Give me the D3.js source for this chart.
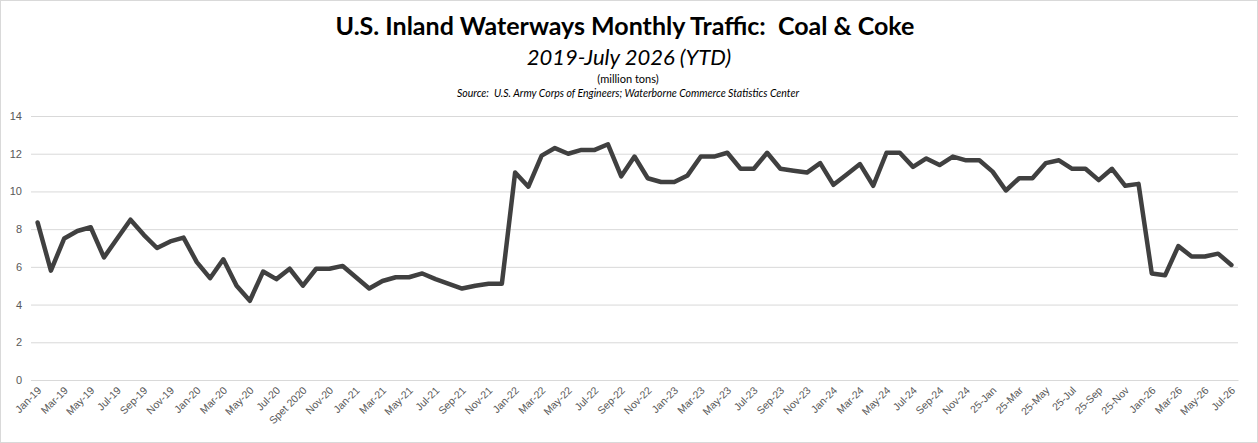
<!DOCTYPE html>
<html>
<head>
<meta charset="utf-8">
<script src="https://cdn.jsdelivr.net/npm/d3@7"></script>
<style>
  body { margin: 0; background: #fff; }
  svg { display: block; font-family: Lato, "Open Sans", sans-serif; }
</style>
</head>
<body>
<svg id="chart"></svg>
<script>
// monthly categories, Jan 2019 .. Jul 2026
const months = [
  "Jan-19","Feb-19","Mar-19","Apr-19","May-19","Jun-19","Jul-19","Aug-19","Sep-19","Oct-19","Nov-19","Dec-19",
  "Jan-20","Feb-20","Mar-20","Apr-20","May-20","Jun-20","Jul-20","Aug-20","Spet 2020","Oct-20","Nov-20","Dec-20",
  "Jan-21","Feb-21","Mar-21","Apr-21","May-21","Jun-21","Jul-21","Aug-21","Sep-21","Oct-21","Nov-21","Dec-21",
  "Jan-22","Feb-22","Mar-22","Apr-22","May-22","Jun-22","Jul-22","Aug-22","Sep-22","Oct-22","Nov-22","Dec-22",
  "Jan-23","Feb-23","Mar-23","Apr-23","May-23","Jun-23","Jul-23","Aug-23","Sep-23","Oct-23","Nov-23","Dec-23",
  "Jan-24","Feb-24","Mar-24","Apr-24","May-24","Jun-24","Jul-24","Aug-24","Sep-24","Oct-24","Nov-24","Dec-24",
  "25-Jan","25-Feb","25-Mar","25-Apr","25-May","25-Jun","25-Jul","25-Aug","25-Sep","25-Oct","25-Nov","25-Dec",
  "Jan-26","Feb-26","Mar-26","Apr-26","May-26","Jun-26","Jul-26"
];

// coal & coke, million tons
const tons = [
  8.35, 5.8, 7.5, 7.9, 8.1, 6.5, 7.5, 8.5, 7.7, 7.0, 7.35, 7.55,
  6.25, 5.4, 6.4, 5.0, 4.2, 5.75, 5.35, 5.9, 5.0, 5.9, 5.9, 6.05,
  5.45, 4.85, 5.25, 5.45, 5.45, 5.65, 5.35, 5.1, 4.85, 5.0, 5.1, 5.1,
  11.0, 10.25, 11.9, 12.3, 12.0, 12.2, 12.2, 12.5, 10.8, 11.85, 10.7, 10.5,
  10.5, 10.85, 11.85, 11.85, 12.05, 11.2, 11.2, 12.05, 11.2, 11.1, 11.0, 11.5,
  10.35, 10.9, 11.45, 10.3, 12.05, 12.05, 11.3, 11.75, 11.4, 11.85, 11.65, 11.65,
  11.05, 10.05, 10.7, 10.7, 11.5, 11.65, 11.2, 11.2, 10.6, 11.2, 10.3, 10.4,
  5.65, 5.55, 7.1, 6.55, 6.55, 6.7, 6.1
];

const yTicks = [0, 2, 4, 6, 8, 10, 12, 14];

const W = 1258, H = 443;
const margin = {top: 116, right: 20, bottom: 63, left: 31};
const innerW = W - margin.left - margin.right;
const innerH = H - margin.top - margin.bottom;

const svg = d3.select('#chart').attr('width', W).attr('height', H);

svg.append('rect')
  .attr('x', 0.5).attr('y', 0.5)
  .attr('width', W - 1).attr('height', H - 1)
  .attr('fill', '#fff').attr('stroke', '#d9d9d9');

// titles
svg.append('text')
  .attr('x', 625).attr('y', 35)
  .attr('text-anchor', 'middle')
  .style('white-space', 'pre')
  .style('font-size', '25px').style('font-weight', 'bold').style('fill', '#000')
  .text('U.S. Inland Waterways Monthly Traffic:  Coal & Coke');
svg.append('text')
  .attr('x', 629).attr('y', 65)
  .attr('text-anchor', 'middle')
  .style('font-size', '22px').style('font-style', 'italic').style('fill', '#000')
  .text('2019-July 2026 (YTD)');
svg.append('text')
  .attr('x', 628).attr('y', 83)
  .attr('text-anchor', 'middle')
  .style('font-size', '11px').style('fill', '#000')
  .text('(million tons)');
svg.append('text')
  .attr('x', 628).attr('y', 97)
  .attr('text-anchor', 'middle')
  .style('white-space', 'pre')
  .style('font-size', '10.5px').style('font-style', 'italic').style('fill', '#000')
  .text('Source:  U.S. Army Corps of Engineers; Waterborne Commerce Statistics Center');

const chart = svg.append('g')
  .attr('transform', `translate(${margin.left},${margin.top})`);

const x = d3.scalePoint()
  .domain(months)
  .range([0, innerW])
  .padding(0.5);

const y = d3.scaleLinear()
  .domain([0, 14])
  .range([innerH, 0]);

// y axis + gridlines
const yAxis = chart.append('g')
  .call(d3.axisLeft(y).tickValues(yTicks).tickSize(-innerW).tickPadding(9));
yAxis.select('.domain').remove();
yAxis.selectAll('line').attr('stroke', '#d9d9d9');
yAxis.selectAll('text')
  .style('font-size', '11px').style('fill', '#595959');

// x axis, every other month labelled
const xAxis = chart.append('g')
  .attr('transform', `translate(0,${innerH})`)
  .call(d3.axisBottom(x)
    .tickValues(months.filter((m, i) => i % 2 === 0))
    .tickSize(0).tickPadding(0));
xAxis.select('.domain').attr('stroke', '#d9d9d9');
xAxis.selectAll('text')
  .attr('text-anchor', 'end')
  .attr('dy', 0)
  .attr('transform', 'translate(4,11) rotate(-45)')
  .style('font-size', '10.5px').style('fill', '#595959');

// line
const line = d3.line()
  .x((d, i) => x(months[i]))
  .y(d => y(d));

chart.append('path')
  .datum(tons)
  .attr('fill', 'none')
  .attr('stroke', '#404040')
  .attr('stroke-width', 4.5)
  .attr('stroke-linejoin', 'round')
  .attr('stroke-linecap', 'round')
  .attr('d', line);
</script>
</body>
</html>
